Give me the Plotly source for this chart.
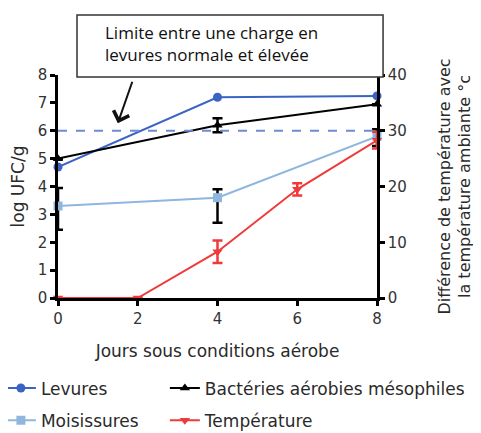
import plotly.graph_objects as go

jours = [0, 4, 8]
levures = [4.7, 7.2, 7.25]
bacteries = [5.0, 6.2, 6.95]
bacteries_err = [0.0, 0.25, 0.0]
moisissures = [3.3, 3.6, 5.8]
moisissures_err_plus = [0.65, 0.3, 0.25]
moisissures_err_minus = [0.85, 0.9, 0.35]
jours_temp = [0, 2, 4, 6, 8]
temperature = [0, 0, 8.3, 19.5, 28.3]
temperature_err = [0, 0, 2.0, 1.1, 1.5]
limite = 6

blue = "#3a63c3"
lblue = "#8fb6de"
red = "#f03a3a"
font = "DejaVu Sans"
tcol = "#2a2a2a"

fig = go.Figure()
# black error bars for moisissures
fig.add_trace(go.Scatter(x=jours, y=moisissures, mode="markers", marker=dict(size=1, color="rgba(0,0,0,0)"),
                         error_y=dict(type="data", symmetric=False, array=moisissures_err_plus,
                                      arrayminus=moisissures_err_minus, color="black", thickness=2.5, width=5),
                         showlegend=False, hoverinfo="skip", cliponaxis=False))
fig.add_trace(go.Scatter(x=jours, y=levures, name="Levures", mode="lines+markers", legend="legend", legendgroup="a",
                         line=dict(color=blue, width=2), marker=dict(symbol="circle", size=9, color=blue),
                         cliponaxis=False))
fig.add_trace(go.Scatter(x=jours, y=bacteries, name="Bactéries aérobies mésophiles", mode="lines+markers",
                         legend="legend2", legendgroup="c",
                         line=dict(color="black", width=2), marker=dict(symbol="triangle-up", size=9, color="black"),
                         error_y=dict(type="data", array=bacteries_err, color="black", thickness=2.5, width=5),
                         cliponaxis=False))
fig.add_trace(go.Scatter(x=jours, y=moisissures, name="Moisissures", mode="lines+markers", legend="legend", legendgroup="b",
                         line=dict(color=lblue, width=2), marker=dict(symbol="square", size=9, color=lblue),
                         cliponaxis=False))
fig.add_trace(go.Scatter(x=jours_temp, y=temperature, name="Température", mode="lines+markers", yaxis="y2",
                         legend="legend2", legendgroup="d",
                         line=dict(color=red, width=2), marker=dict(symbol="triangle-down", size=9, color=red),
                         error_y=dict(type="data", array=temperature_err, color=red, thickness=2.5, width=5),
                         cliponaxis=False))

fig.add_shape(type="line", x0=0, x1=8, y0=limite, y1=limite, xref="x", yref="y",
              line=dict(color="#6f8bd2", width=2, dash="dash"))
# callout box
fig.add_shape(type="rect", xref="paper", yref="paper", x0=0.0596, x1=1.019, y0=0.991, y1=1.269,
              line=dict(color="#333", width=1.5), fillcolor="white", layer="above")
fig.add_annotation(xref="paper", yref="paper", x=0.141, y=1.143, xanchor="left", yanchor="middle",
                   text="Limite entre une charge en<br>levures normale et élevée", showarrow=False,
                   align="left", font=dict(family="Open Sans", size=17, color="#111"))
fig.add_annotation(x=1.5, y=6.27, xref="x", yref="y", ax=15, ay=-43, text="", showarrow=True,
                   arrowhead=4, arrowsize=1.6, arrowwidth=2, arrowcolor="#111")

axis_common = dict(showline=True, linecolor="black", linewidth=2.5, ticks="outside", ticklen=5,
                   tickwidth=2.5, tickcolor="black", showgrid=False, zeroline=False,
                   tickfont=dict(family=font, size=15, color="#333"))
legend_common = dict(orientation="v", yanchor="top", xanchor="left", tracegroupgap=7,
                     font=dict(family=font, size=17, color=tcol), bgcolor="rgba(0,0,0,0)")
fig.update_layout(
    width=473, height=425, margin=dict(l=50, r=104, t=67, b=135, autoexpand=False),
    plot_bgcolor="white", paper_bgcolor="white",
    xaxis=dict(range=[0, 8], tickvals=[0, 2, 4, 6, 8], **axis_common,
               title=dict(text="Jours sous conditions aérobe", font=dict(family=font, size=17, color=tcol), standoff=19)),
    yaxis=dict(range=[0, 8], tickvals=list(range(9)), **axis_common,
               title=dict(text="log UFC/g", font=dict(family=font, size=17, color=tcol), standoff=13)),
    yaxis2=dict(range=[0, 40], tickvals=[0, 10, 20, 30, 40], overlaying="y", side="right", anchor="x", **axis_common,
                title=dict(text="Différence de température avec<br>la température ambiante °c",
                           font=dict(family=font, size=16, color=tcol), standoff=33)),
    legend=dict(x=-0.179, y=-0.325, **legend_common),
    legend2=dict(x=0.335, y=-0.325, **legend_common),
    showlegend=True,
)
fig.write_html("out.html")
